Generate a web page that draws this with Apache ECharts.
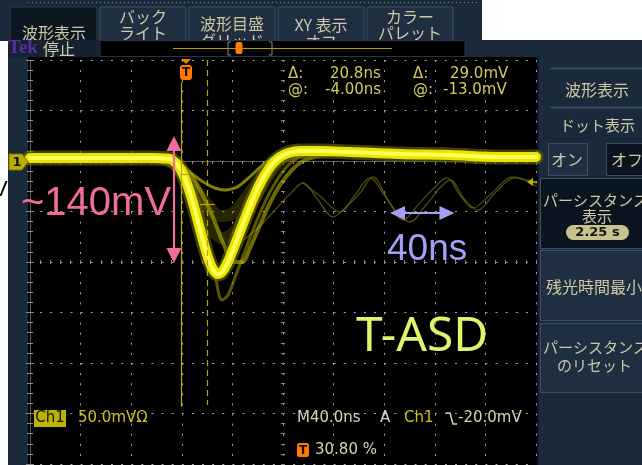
<!DOCTYPE html>
<html><head><meta charset="utf-8">
<script src="https://cdn.jsdelivr.net/npm/echarts@6/dist/echarts.min.js"></script>
<style>html,body{margin:0;padding:0;background:#fff;overflow:hidden}#c{width:642px;height:465px}</style>
</head><body><div id="c"></div>
<script>
// ---- axes (time in ns from left screen edge, 40 ns/div; Ch1 in mV, 50 mV/div) ----
const timeRange = [0, 400];
const timeDiv = 40;
const voltRange = [-300, 100];
const voltDiv = 50;

// ---- waveforms [ns, mV] ----
const mainTrace = [[0,3],[55.3,3],[94.9,3],[106.7,2.5],[110.7,2],[115.4,-2],[119.4,-8.9],[123.3,-19.8],[127.3,-34.7],[131.2,-52.5],[135.2,-71.3],[139.1,-89.1],[142.3,-101],[145.5,-108.9],[148.6,-111.9],[151.8,-109.9],[155.7,-102],[159.7,-90.1],[164.4,-75.2],[169.2,-59.4],[173.9,-44.6],[178.7,-30.7],[183.4,-18.8],[188.1,-8.9],[192.9,-1],[197.6,4],[204,7.9],[213.4,9.9],[229.2,9.9],[253,8.9],[292.5,6.9],[332,5.9],[371.5,4],[400,4]];
const traceA = [[102.8,2],[114.6,-1],[122.5,-6.9],[130.4,-14.9],[138.3,-21.8],[146.2,-26.7],[154.2,-28.7],[162.1,-26.7],[170,-19.8],[177.9,-10.9],[185.8,-2],[193.7,4],[205.5,7.9],[229.2,8.9]];
const traceB = [[106.7,2],[117,-5],[126.5,-18.8],[134.4,-33.7],[142.3,-46.5],[150.2,-54.5],[158.1,-53.5],[166,-44.6],[173.9,-30.7],[181.8,-16.8],[189.7,-5],[199.2,4],[213.4,8.9]];
const traceC = [[109.1,1],[118.6,-8.9],[128.1,-28.7],[136,-50.5],[143.9,-68.3],[151.8,-76.2],[159.7,-72.3],[167.6,-58.4],[175.5,-41.6],[183.4,-24.8],[191.3,-9.9],[200.8,3],[213.4,8.9]];
const traceD = [[114.6,1],[124.9,-10.9],[134.4,-28.7],[143.9,-53.5],[153.4,-83.2],[161.3,-100],[167.6,-100],[173.9,-86.1],[181.8,-63.4],[189.7,-41.6],[197.6,-23.8],[207.1,-8.9],[217.4,1],[237.2,6.9]];
const traceE = [[112.3,1],[122.5,-16.8],[132,-48.5],[139.9,-83.2],[146.2,-112.9],[151.8,-137.6],[156.5,-132.7],[162.8,-112.9],[170.8,-86.1],[180.2,-56.4],[189.7,-30.7],[200.8,-8.9],[211.9,3],[229.2,7.9]];
const ring1 = [[169.2,-78],[181.8,-64.4],[193.7,-48.5],[205.5,-32.7],[215.8,-21.8],[227.7,-38.6],[239.5,-55.4],[251.4,-43.6],[260.9,-31.7],[271.1,-15.8],[283,-38.6],[294.9,-58.4],[306.7,-43.6],[317.8,-28.7],[329.6,-16.8],[339.9,-33.7],[350.2,-46.5],[363.6,-33.7],[381.8,-15.8],[400,-24.8]];
const ring2 = [[215.8,-21.8],[229.2,-34.7],[245,-50.5],[256.9,-33.7],[268.8,-16.8],[280.6,-34.7],[292.5,-54.5],[300.4,-60.4],[312.3,-44.6],[324.1,-26.7],[332,-18.8],[343.9,-38.6],[354.2,-48.5],[367.6,-31.7],[383.4,-16.8],[400,-21.8]];

// ---- cursors and annotations [ns, mV] ----
const cursorTimes = [119.5, 140];
const cursorSolidMv = [78, -243.6];
const cursorDashMv = [100, -241.6];
const cursorTickA = [[120.2, -12.9], [125.7, -12.9]];
const cursorTickB = [[134.4, -42.6], [146.2, -42.6]];
const ampArrowT = 113.8;
const ampArrowMv = [17.3, -93.6];
const periodArrowMv = -51.5;
const periodArrowT = [290.5, 329.6];

const chart = echarts.init(document.getElementById('c'), null, {renderer: 'canvas'});

const grey = '#a8a8a8';
const hidden = {show: false};
function xAx(extra) {
  return Object.assign({type: 'value', min: timeRange[0], max: timeRange[1], interval: timeDiv,
    axisLabel: hidden, axisLine: hidden, axisTick: hidden, splitLine: hidden}, extra);
}
function yAx(extra) {
  return Object.assign({type: 'value', min: voltRange[0], max: voltRange[1], interval: voltDiv,
    axisLabel: hidden, axisLine: hidden, axisTick: hidden, splitLine: hidden}, extra);
}
const tickStyle = {color: '#8a8a8a', width: 1};

function lineSeries(data, width, color, z) {
  return {type: 'line', data: data, showSymbol: false, smooth: 0.35, silent: true, z: z || 3,
    lineStyle: {width: width, color: color, cap: 'round', join: 'round'}, animation: false};
}

const font = 'DejaVu Sans';
const jp = '"Noto Sans CJK JP"';
const menuCol = '#cdc8a6';

function T(x, y, text, opt, z) {
  return {type: 'text', x: x, y: y, z: z == null ? 100 : z,
    style: Object.assign({text: text, fill: menuCol, font: '15px ' + jp, textAlign: 'left', textVerticalAlign: 'middle'}, opt || {})};
}
function R(x, y, w, h, fill, stroke, z, r) {
  return {type: 'rect', z: z == null ? -10 : z, shape: {x: x, y: y, width: w, height: h, r: r || 0},
    style: {fill: fill, stroke: stroke || null, lineWidth: 1}};
}

const navy = '#1b2a3b';
const btn = '#1f2e40';
const btnEdge = '#3b4e64';
const dark = '#0b1520';
const readCol = '#d3ca5c';
const infoCol = '#d9d4b4';
const chYel = '#c9c21e';

const graphics = [
  // backgrounds
  R(0, 0, 482, 41, navy),
  R(8, 40, 530, 425, navy),
  R(28, 57, 509, 408, '#000'),
  R(538, 40, 104, 425, navy),
  {type: 'line', z: -9, shape: {x1: 537.5, y1: 57, x2: 537.5, y2: 465}, style: {stroke: '#0a121b', lineWidth: 2}},
  {type: 'line', z: -9, shape: {x1: 28, y1: 2.5, x2: 480, y2: 2.5}, style: {stroke: '#7d8893', lineWidth: 1, lineDash: [1, 3]}},
  // top menu buttons
  R(10, 7, 87, 40, '#0c1722', '#2a3a4d', -8),
  R(100, 7, 86, 40, btn, btnEdge, -8),
  R(189, 7, 86, 40, btn, btnEdge, -8),
  R(278, 7, 86, 40, btn, btnEdge, -8),
  R(367, 7, 86, 40, btn, btnEdge, -8),
  T(54, 33, '波形表示', {font: '16px ' + jp, textAlign: 'center'}, 5),
  T(143, 17, 'バック', {font: '16px ' + jp, textAlign: 'center'}, 5),
  T(143, 33, 'ライト', {font: '16px ' + jp, textAlign: 'center'}, 5),
  T(232, 24, '波形目盛', {font: '16px ' + jp, textAlign: 'center'}, 5),
  T(232, 41, 'グリッド', {font: '16px ' + jp, textAlign: 'center'}, 5),
  T(321, 25, 'XY 表示', {font: '16px ' + jp, textAlign: 'center'}, 5),
  T(321, 42, 'オフ', {font: '16px ' + jp, textAlign: 'center'}, 5),
  T(410, 17, 'カラー', {font: '16px ' + jp, textAlign: 'center'}, 5),
  T(410, 33, 'パレット', {font: '16px ' + jp, textAlign: 'center'}, 5),
  // Tek status bar
  R(8, 40, 92, 17, '#15222f', null, 90),
  R(100, 40.5, 365, 16, '#000', '#26364a', 90),
  T(8, 48.5, 'Tek', {fill: '#5b2d9e', font: 'bold 19px "Liberation Serif"'}, 95),
  T(43, 48.5, '停止', {fill: '#cfcab0', font: '16px ' + jp}, 95),
  {type: 'line', z: 95, shape: {x1: 173, y1: 48.5, x2: 392, y2: 48.5}, style: {stroke: '#b0a200', lineWidth: 1.2}},
  {type: 'polyline', z: 95, shape: {points: [[231, 42], [228, 42], [228, 55], [231, 55]]}, style: {stroke: '#8a8a8a', fill: null, lineWidth: 1}},
  {type: 'polyline', z: 95, shape: {points: [[269, 42], [272, 42], [272, 55], [269, 55]]}, style: {stroke: '#8a8a8a', fill: null, lineWidth: 1}},
  R(235.5, 42, 7, 12, '#ff7a00', null, 96, 2),
  // channel 1 marker
  {type: 'polygon', z: 100, shape: {points: [[9, 154], [22, 154], [28, 162], [22, 170], [9, 170]]}, style: {fill: '#b9ae00', stroke: '#7d7500'}},
  T(12.5, 162.5, '1', {fill: '#111', font: 'bold 13px ' + font}, 101),
  // trigger level marker (right)
  {type: 'polygon', z: 100, shape: {points: [[527, 182], [533, 178], [533, 186]]}, style: {fill: '#c2b200'}},
  {type: 'line', z: 100, shape: {x1: 531, y1: 182, x2: 537, y2: 182}, style: {stroke: '#c2b200', lineWidth: 1.5}},
  // trigger T marker (top)
  {type: 'polygon', z: 100, shape: {points: [[181, 59], [191, 59], [186, 64]]}, style: {fill: '#ff7a00'}},
  R(180, 65, 12, 15, '#ff7a00', null, 100, 3),
  T(186, 72.5, 'T', {fill: '#1a0a00', font: 'bold 12px ' + font, textAlign: 'center'}, 101),
  // cursor readouts
  T(288, 74, 'Δ:', {fill: readCol, font: '15px ' + font}),
  T(330, 74, '20.8ns', {fill: readCol, font: '15px ' + font}),
  T(413, 74, 'Δ:', {fill: readCol, font: '15px ' + font}),
  T(450, 74, '29.0mV', {fill: readCol, font: '15px ' + font}),
  T(288, 90, '@:', {fill: readCol, font: '15px ' + font}),
  T(325, 90, '-4.00ns', {fill: readCol, font: '15px ' + font}),
  T(413, 90, '@:', {fill: readCol, font: '15px ' + font}),
  T(443, 90, '-13.0mV', {fill: readCol, font: '15px ' + font}),
  // bottom status
  R(34, 410, 32, 17, '#bdb400', null, 100),
  T(50, 418.5, 'Ch1', {fill: '#141400', font: '15px ' + font, textAlign: 'center'}, 101),
  T(78, 418.5, '50.0mVΩ', {fill: chYel, font: '15px ' + font}),
  T(297, 418.5, 'M40.0ns', {fill: infoCol, font: '15px ' + font}),
  T(380, 418.5, 'A', {fill: infoCol, font: '15px ' + font}),
  T(404, 418.5, 'Ch1', {fill: chYel, font: '15px ' + font}),
  {type: 'polyline', z: 100, shape: {points: [[446, 413], [450, 413], [453, 424], [457, 424]]}, style: {stroke: infoCol, fill: null, lineWidth: 1.5}},
  T(458, 418.5, '-20.0mV', {fill: infoCol, font: '15px ' + font}),
  R(297, 443, 12, 14, '#ff7a00', null, 100, 2),
  T(303, 450.5, 'T', {fill: '#1a0a00', font: 'bold 12px ' + font, textAlign: 'center'}, 101),
  T(315, 450.5, '30.80 %', {fill: infoCol, font: '15px ' + font}),
  // right menu panel
  {type: 'line', z: -8, shape: {x1: 550, y1: 68.5, x2: 642, y2: 68.5}, style: {stroke: '#3e5269', lineWidth: 1.5}},
  T(597, 90, '波形表示', {font: '16px ' + jp, textAlign: 'center'}),
  {type: 'line', z: -8, shape: {x1: 550, y1: 107.5, x2: 642, y2: 107.5}, style: {stroke: '#3e5269', lineWidth: 1.5}},
  T(560, 125, 'ドット表示', {font: '15px ' + jp}),
  R(548.5, 143.5, 39, 32, btn, btnEdge, -8),
  T(567, 159.5, 'オン', {font: '16px ' + jp, textAlign: 'center'}),
  R(606.5, 143.5, 45, 32, dark, btnEdge, -8),
  T(611, 159.5, 'オフ', {font: '16px ' + jp}),
  R(540.5, 178.5, 110, 70, dark, btnEdge, -8),
  T(543, 200, 'パーシスタンス', {font: '15px ' + jp}),
  T(597, 216, '表示', {font: '15px ' + jp, textAlign: 'center'}),
  R(566, 225, 63, 15, '#c9c28f', null, 100, 7.5),
  T(597.5, 232.5, '2.25 s', {fill: '#151515', font: 'bold 13px ' + font, textAlign: 'center'}, 101),
  R(540.5, 250.5, 110, 70, btn, btnEdge, -8),
  T(546, 287, '残光時間最小', {font: '16px ' + jp}),
  R(540.5, 323.5, 110, 69, btn, btnEdge, -8),
  T(543, 347, 'パーシスタンス', {font: '15px ' + jp}),
  T(557, 365, 'のリセット', {font: '15px ' + jp}),
  // left cut-off text
  T(-7, 190, 'V', {fill: '#000', font: '22px "Liberation Sans"'}),
  // annotations text
  T(21, 204, '~140mV', {fill: '#ef6c9c', font: '40px "Liberation Sans"'}, 110),
  T(387, 250, '40ns', {fill: '#a4a0f6', font: '37px "Liberation Sans"'}, 110),
  T(356, 337, 'T-ASD', {fill: '#dcf66c', font: '48px "Noto Sans"'}, 110)
];

const markLines = {
  silent: true, animation: false, symbol: ['none', 'none'], label: {show: false}, z: 20,
  data: [
    [{coord: [cursorTimes[0], cursorSolidMv[0]], lineStyle: {color: '#b8a800', width: 1.2, type: 'solid'}}, {coord: [cursorTimes[0], cursorSolidMv[1]]}],
    [{coord: [cursorTimes[1], cursorDashMv[0]], lineStyle: {color: '#b3a600', width: 1.2, type: [6, 4]}}, {coord: [cursorTimes[1], cursorDashMv[1]]}],
    [{coord: cursorTickA[0], lineStyle: {color: '#b8a800', width: 1.2, type: 'solid'}}, {coord: cursorTickA[1]}],
    [{coord: cursorTickB[0], lineStyle: {color: '#b8a800', width: 1.2, type: 'solid'}}, {coord: cursorTickB[1]}],
    [{coord: [ampArrowT, ampArrowMv[0]], symbol: 'triangle', symbolSize: [15, 15], lineStyle: {color: '#ef6c9c', width: 2.2, type: 'solid'}},
     {coord: [ampArrowT, ampArrowMv[1]], symbol: 'triangle', symbolSize: [15, 15]}],
    [{coord: [periodArrowT[0], periodArrowMv], symbol: 'triangle', symbolSize: [14, 15], lineStyle: {color: '#a4a0f6', width: 2.2, type: 'solid'}},
     {coord: [periodArrowT[1], periodArrowMv], symbol: 'triangle', symbolSize: [14, 15]}]
  ]
};

const mainSeries = lineSeries(mainTrace, 4, '#ffff55', 8);

chart.setOption({
  animation: false,
  backgroundColor: 'transparent',
  grid: {left: 30, top: 60, width: 506, height: 404, containLabel: false},
  xAxis: [
    xAx({position: 'bottom', splitLine: {show: true, lineStyle: {color: grey, width: 1, type: [2, 8.1]}}}),
    xAx({position: 'top', axisLine: {show: true, lineStyle: {color: '#6a6a6a', width: 1, type: [1, 1]}},
      axisTick: {show: true, inside: true, length: 4, lineStyle: tickStyle}, minorTick: {show: true, splitNumber: 5, length: 3, lineStyle: tickStyle}}),
    xAx({position: 'bottom', offset: -202, axisTick: {show: true, inside: true, length: 2, lineStyle: tickStyle}, minorTick: {show: true, splitNumber: 5, length: 2, lineStyle: tickStyle}}),
    xAx({position: 'bottom', offset: -202, axisTick: {show: true, inside: false, length: 2, lineStyle: tickStyle}, minorTick: {show: true, splitNumber: 5, length: 2, lineStyle: tickStyle}})
  ],
  yAxis: [
    yAx({position: 'left', splitLine: {show: true, lineStyle: {color: grey, width: 1, type: [2, 8.12]}}}),
    yAx({position: 'left', axisLine: {show: true, lineStyle: {color: '#6a6a6a', width: 1, type: [1, 1]}},
      axisTick: {show: true, inside: true, length: 4, lineStyle: tickStyle}, minorTick: {show: true, splitNumber: 5, length: 3, lineStyle: tickStyle}}),
    yAx({position: 'right', axisLine: {show: true, lineStyle: {color: '#5f5f5f', width: 1}},
      axisTick: {show: true, inside: true, length: 4, lineStyle: tickStyle}, minorTick: {show: true, splitNumber: 5, length: 3, lineStyle: tickStyle}}),
    yAx({position: 'left', offset: -253, axisTick: {show: true, inside: true, length: 2, lineStyle: tickStyle}, minorTick: {show: true, splitNumber: 5, length: 2, lineStyle: tickStyle}}),
    yAx({position: 'left', offset: -253, axisTick: {show: true, inside: false, length: 2, lineStyle: tickStyle}, minorTick: {show: true, splitNumber: 5, length: 2, lineStyle: tickStyle}})
  ],
  graphic: {elements: graphics},
  series: [
    lineSeries(ring1, 1.3, 'rgba(110,107,20,0.7)', 3),
    lineSeries(ring2, 1.3, 'rgba(110,107,20,0.7)', 3),
    lineSeries(traceB, 12, 'rgba(100,96,0,0.4)', 3),
    lineSeries(traceC, 12, 'rgba(100,96,0,0.4)', 3),
    lineSeries(traceE, 3, 'rgba(150,145,0,0.6)', 4),
    lineSeries(traceD, 4, 'rgba(200,195,0,0.55)', 4),
    lineSeries(traceA, 3, 'rgba(215,210,0,0.6)', 4),
    lineSeries(mainTrace, 15, 'rgba(110,106,0,0.6)', 5),
    lineSeries(mainTrace, 10, '#e9e500', 6),
    Object.assign(mainSeries, {markLine: markLines})
  ]
});
</script>
</body></html>
